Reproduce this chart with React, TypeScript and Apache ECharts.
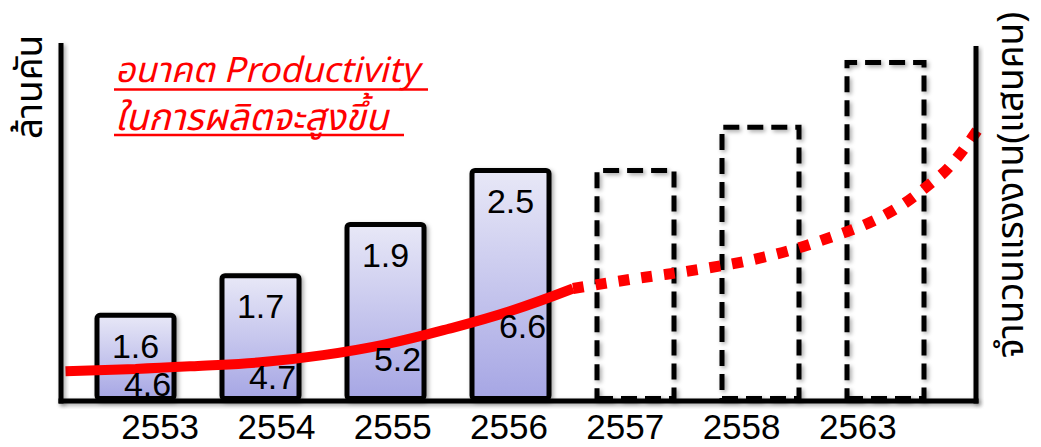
import React, { useEffect, useRef } from "react";
import * as echarts from "echarts";

// Categories (Buddhist-era years)
const years = ["2553", "2554", "2555", "2556", "2557", "2558", "2563"];
// Productivity labels shown in the solid bars (ล้านคัน)
const productivity = [1.6, 1.7, 1.9, 2.5];
// Bar heights as drawn in the picture (chart units; the picture is illustrative)
const barHeights = [0.98, 1.42, 1.99, 2.59, 2.59, 3.07, 3.79];
// Labour figures (แสนคน) labelled along the red curve
const laborValues = [4.6, 4.7, 5.2, 6.6];
// Red trend curve: [category position, height]
const laborTrendSolid: number[][] = [
  [-0.56, 0.33], [0, 0.356], [0.5, 0.39], [1, 0.43], [1.5, 0.51],
  [2, 0.63], [2.5, 0.8], [3, 1.0], [3.5, 1.25],
];
const laborTrendDotted: number[][] = [
  [3.5, 1.25], [4, 1.36], [4.5, 1.46], [5, 1.59], [5.5, 1.79],
  [6, 2.07], [6.4, 2.46], [6.56, 2.68], [6.74, 3.02],
];
const titleLines = ["อนาคต Productivity", "ในการผลิตจะสูงขึ้น"];

const TEXT_FONT = "'Liberation Sans', Arial, sans-serif";
const THAI_FONT = "Tahoma, 'Noto Sans Thai', 'Noto Sans', 'DejaVu Sans', sans-serif";

export default function App() {
  const ref = useRef<HTMLDivElement>(null);
  useEffect(() => {
    if (!ref.current) return;
    const chart = echarts.init(ref.current, undefined, { renderer: "svg" });
    const nActual = productivity.length;
    const actual = barHeights.map((h, i) => (i < nActual ? h : "-"));
    const forecast = barHeights.map((h, i) => (i < nActual ? "-" : h));
    const labelPoints = laborTrendSolid.filter(
      (p) => Number.isInteger(p[0]) && p[0] >= 0
    );
    const shadow = {
      shadowBlur: 4,
      shadowColor: "rgba(0,0,0,0.35)",
      shadowOffsetX: 2,
      shadowOffsetY: 2,
    };
    chart.setOption({
      animation: false,
      backgroundColor: "#ffffff",
      grid: [
        // bars: 7 slots of 125px
        { left: 73, right: 93, top: 41, bottom: 46 },
        // tick labels
        { left: 102, right: 125, top: 41, bottom: 46 },
        // trend curve: same 125px-per-slot scale, wider so the curve reaches the frame
        { left: 60.5, right: 55.5, top: 41, bottom: 46 },
      ],
      xAxis: [
        {
          type: "category",
          data: years,
          gridIndex: 0,
          axisLine: { show: false },
          axisTick: { show: false },
          axisLabel: { show: false },
        },
        {
          type: "value",
          gridIndex: 2,
          min: -0.6,
          max: 6.8,
          show: false,
        },
        {
          type: "category",
          data: years,
          gridIndex: 1,
          axisLine: { show: false },
          axisTick: { show: false },
          axisLabel: {
            color: "#000",
            fontSize: 35,
            fontFamily: TEXT_FONT,
            margin: 8,
          },
        },
      ],
      yAxis: [
        { type: "value", gridIndex: 0, min: 0, max: 4, show: false },
        { type: "value", gridIndex: 1, min: 0, max: 4, show: false },
        { type: "value", gridIndex: 2, min: 0, max: 4, show: false },
      ],
      series: [
        {
          type: "bar",
          xAxisIndex: 0,
          yAxisIndex: 0,
          data: actual,
          barWidth: 82,
          barGap: "-100%",
          itemStyle: {
            color: {
              type: "linear",
              x: 0, y: 0, x2: 0, y2: 1,
              colorStops: [
                { offset: 0, color: "#e8e8f7" },
                { offset: 1, color: "#a6a6e4" },
              ],
            },
            borderColor: "#000",
            borderWidth: 5,
            borderRadius: 3,
            ...shadow,
          },
          label: {
            show: true,
            position: "insideTop",
            distance: 16,
            color: "#000",
            fontSize: 34,
            fontFamily: TEXT_FONT,
            formatter: (p: any) => String(productivity[p.dataIndex]),
          },
        },
        {
          type: "bar",
          xAxisIndex: 0,
          yAxisIndex: 0,
          data: forecast,
          barWidth: 82,
          barGap: "-100%",
          itemStyle: {
            color: "rgba(255,255,255,0)",
            borderColor: "#000",
            borderWidth: 5,
            borderType: [16, 8],
            ...shadow,
          },
        },
        {
          type: "line",
          xAxisIndex: 1,
          yAxisIndex: 2,
          data: laborTrendSolid,
          smooth: 0.4,
          symbol: "none",
          lineStyle: { color: "#ff0000", width: 10, cap: "butt" },
        },
        {
          type: "line",
          xAxisIndex: 1,
          yAxisIndex: 2,
          data: laborTrendDotted,
          smooth: 0.4,
          symbol: "none",
          lineStyle: { color: "#ff0000", width: 11, type: [11, 12], cap: "butt" },
        },
        {
          type: "scatter",
          xAxisIndex: 1,
          yAxisIndex: 2,
          data: labelPoints,
          symbolSize: 1,
          itemStyle: { color: "rgba(0,0,0,0)", opacity: 1 },
          z: 5,
          label: {
            show: true,
            position: "inside",
            offset: [12, 15],
            color: "#000",
            opacity: 1,
            textBorderWidth: 0,
            fontSize: 34,
            fontFamily: TEXT_FONT,
            formatter: (p: any) => String(laborValues[p.dataIndex]),
          },
        },
      ],
      graphic: [
        {
          type: "rect",
          shape: { x: 58.5, y: 43, width: 5, height: 360.5 },
          style: { fill: "#000", ...shadow },
          z: 10,
        },
        {
          type: "rect",
          shape: { x: 973.5, y: 46, width: 5, height: 357.5 },
          style: { fill: "#000", ...shadow },
          z: 10,
        },
        {
          type: "rect",
          shape: { x: 58.5, y: 398.5, width: 920, height: 5 },
          style: { fill: "#000", ...shadow },
          z: 10,
        },
        {
          type: "text",
          x: 31,
          y: 87,
          rotation: Math.PI / 2,
          style: {
            text: "ล้านคัน",
            fill: "#000",
            font: `37px ${THAI_FONT}`,
            align: "center",
            verticalAlign: "middle",
          },
          z: 10,
        },
        {
          type: "text",
          x: 1012,
          y: 185,
          rotation: Math.PI / 2,
          style: {
            text: "จำนวนแรงงาน(แสนคน)",
            fill: "#000",
            font: `37px ${THAI_FONT}`,
            align: "center",
            verticalAlign: "middle",
          },
          z: 10,
        },
        {
          type: "text",
          x: 115,
          y: 48,
          style: {
            text: `{a|${titleLines[0]}}\n{b|${titleLines[1]}}`,
            fill: "#ff0000",
            align: "left",
            verticalAlign: "top",
            rich: {
              a: {
                fill: "#ff0000",
                fontSize: 35,
                fontStyle: "italic",
                fontFamily: THAI_FONT,
                lineHeight: 46,
              },
              b: {
                fill: "#ff0000",
                fontSize: 37,
                fontStyle: "italic",
                fontFamily: THAI_FONT,
                lineHeight: 50,
              },
            },
          },
          z: 10,
        },
        {
          type: "line",
          shape: { x1: 114, y1: 89.5, x2: 428, y2: 89.5 },
          style: { stroke: "#ff0000", lineWidth: 2.5 },
          z: 10,
        },
        {
          type: "line",
          shape: { x1: 114, y1: 135, x2: 404, y2: 135 },
          style: { stroke: "#ff0000", lineWidth: 2.5 },
          z: 10,
        },
      ],
    });
    return () => chart.dispose();
  }, []);
  return (
    <div
      ref={ref}
      style={{ position: "fixed", left: 0, top: 0, width: 1041, height: 447 }}
    />
  );
}
